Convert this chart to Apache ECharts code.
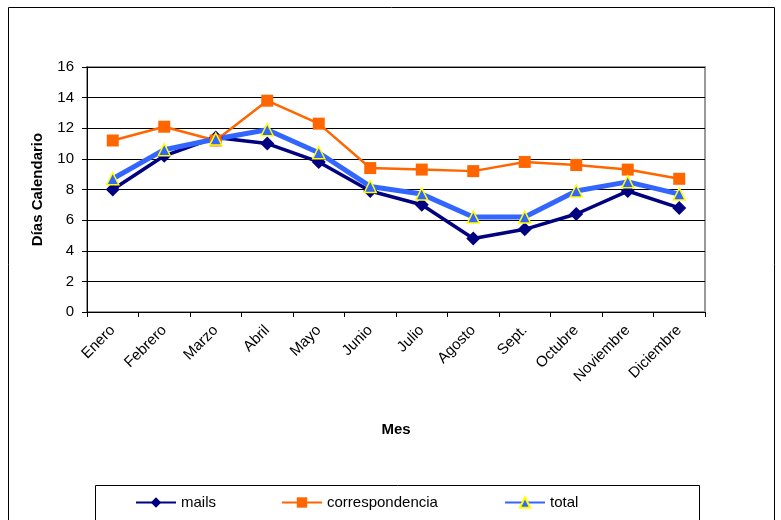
<!DOCTYPE html>
<html>
<head>
<meta charset="utf-8">
<script src="https://cdn.jsdelivr.net/npm/echarts@6/dist/echarts.min.js"></script>
<style>
    html, body { margin: 0; padding: 0; background: #fff; }
    #main { width: 781px; height: 520px; }
</style>
</head>
<body>
<div id="main"></div>
<script>
var months = ['Enero', 'Febrero', 'Marzo', 'Abril', 'Mayo', 'Junio', 'Julio', 'Agosto', 'Sept.', 'Octubre', 'Noviembre', 'Diciembre'];
var mails = [8.0, 10.2, 11.4, 11.0, 9.8, 7.9, 7.0, 4.8, 5.4, 6.4, 7.9, 6.8];
var correspondencia = [11.2, 12.1, 11.2, 13.8, 12.3, 9.4, 9.3, 9.2, 9.8, 9.6, 9.3, 8.7];
var total = [8.7, 10.6, 11.3, 11.9, 10.4, 8.2, 7.7, 6.2, 6.2, 7.9, 8.5, 7.7];

var chart = echarts.init(document.getElementById('main'));
var font = 'Liberation Sans, Arial, sans-serif';

var legendBase = {
    top: 490,
    itemWidth: 40,
    itemHeight: 13,
    textStyle: { fontFamily: font, fontSize: 15, color: '#000' }
};

var option = {
    animation: false,
    backgroundColor: '#fff',
    textStyle: { fontFamily: font },
    grid: {
        left: 87, right: 76, top: 67, bottom: 208,
        show: true, borderColor: '#999', borderWidth: 2
    },
    graphic: [
        // outer chart frame
        { type: 'rect', shape: { x: 8.5, y: 7.5, width: 766, height: 530 },
          style: { fill: null, stroke: '#000', lineWidth: 1 }, z: -1 },
        // legend frame
        { type: 'rect', shape: { x: 95.5, y: 485.5, width: 604, height: 40 },
          style: { fill: null, stroke: '#000', lineWidth: 1 }, z: -1 }
    ],
    legend: [
        Object.assign({ left: 130, data: ['mails'] }, legendBase),
        Object.assign({ left: 276, data: ['correspondencia'] }, legendBase),
        Object.assign({ left: 499, data: ['total'] }, legendBase)
    ],
    xAxis: {
        type: 'category',
        data: months,
        boundaryGap: true,
        name: 'Mes',
        nameLocation: 'middle',
        nameGap: 110,
        nameTextStyle: { fontWeight: 'bold', fontSize: 15, color: '#000' },
        axisLine: { lineStyle: { color: '#000', width: 1 } },
        axisTick: { show: true, interval: 0, length: 5, lineStyle: { color: '#000' } },
        axisLabel: { interval: 0, rotate: 45, fontSize: 15, color: '#000', margin: 16 }
    },
    yAxis: {
        type: 'value',
        min: 0, max: 16, interval: 2,
        name: 'Días Calendario',
        nameLocation: 'middle',
        nameRotate: 90,
        nameGap: 42,
        nameTextStyle: { fontWeight: 'bold', fontSize: 15, color: '#000' },
        axisLine: { show: true, lineStyle: { color: '#000', width: 1 } },
        axisTick: { show: true, length: 5, lineStyle: { color: '#000' } },
        axisLabel: { fontSize: 15, color: '#000', margin: 13 },
        splitLine: { lineStyle: { color: '#000', width: 1 } }
    },
    series: [
        {
            name: 'mails', type: 'line', data: mails,
            symbol: 'diamond', symbolSize: 14,
            lineStyle: { color: '#000080', width: 3.5 },
            itemStyle: { color: '#000080' }
        },
        {
            name: 'correspondencia', type: 'line', data: correspondencia,
            symbol: 'rect', symbolSize: 12,
            lineStyle: { color: '#FF6600', width: 2.5 },
            itemStyle: { color: '#FF6600' }
        },
        {
            name: 'total', type: 'line', data: total,
            symbol: 'triangle', symbolSize: 12,
            lineStyle: { color: '#3366FF', width: 5 },
            itemStyle: { color: '#3366FF', borderColor: '#FFFF00', borderWidth: 1.5 }
        }
    ]
};

chart.setOption(option);
</script>
</body>
</html>
